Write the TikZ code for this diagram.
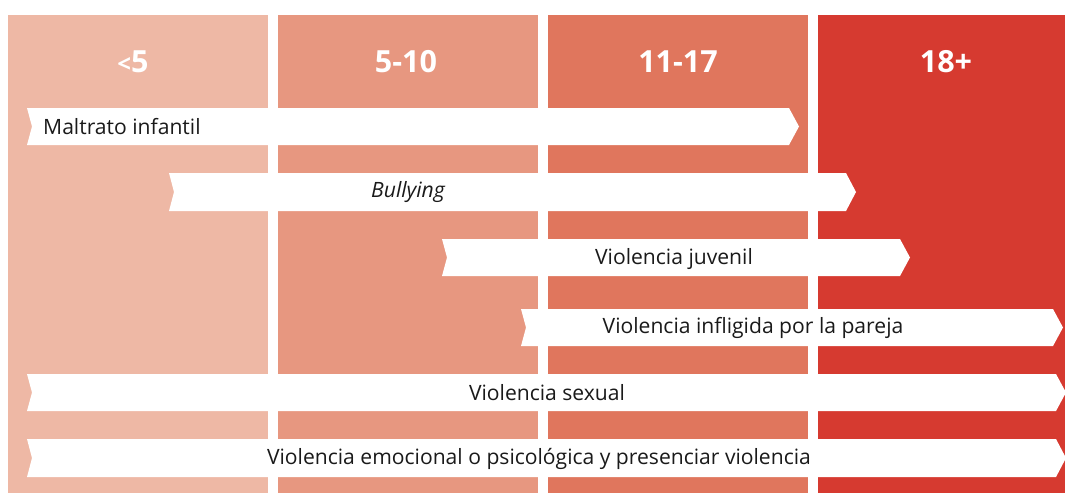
\documentclass[tikz,border=0pt]{standalone}
\usepackage{fontspec}
\setmainfont{Open Sans}
\definecolor{cA}{HTML}{EEB8A5}
\definecolor{cB}{HTML}{E79780}
\definecolor{cC}{HTML}{E0765D}
\definecolor{cD}{HTML}{D63A30}
\definecolor{txt}{HTML}{1A1A1A}
\tikzset{
  head/.style={text=white, font=\fontsize{30.5}{33}\selectfont\bfseries, inner sep=0pt, anchor=center},
  band/.style={fill=white, draw=none},
  lbl/.style={text=txt, font=\fontsize{21.1}{25}\selectfont, inner sep=0pt}
}
\begin{document}
\begin{tikzpicture}[x=1pt,y=-1pt]
\useasboundingbox (0,0) rectangle (1065,493);
\fill[white] (0,0) rectangle (1065,493);
% columns
\fill[cA] (8,15) rectangle (268,493);
\fill[cB] (278,15) rectangle (538,493);
\fill[cC] (548,15) rectangle (808,493);
\fill[cD] (818,15) rectangle (1065,493);
% headers
\node[head] (h1) at (133,62) {{\fontsize{24}{24}\selectfont<}5};
\node[head] (h2) at (406,62) {5-10};
\node[head] (h3) at (678,62) {11-17};
\node[head] (h4) at (946,62) {18+};
% bands: left x, top y, flat end x, bottom y
\newcommand{\bandshape}[4]{%
  \fill[band] (#1,#2) -- (#3,#2) -- ({#3+10},{(#2+#4)/2}) -- (#3,#4) -- (#1,#4) -- ({#1+5},{(#2+#4)/2}) -- cycle;}
\bandshape{27}{108}{789}{145}
\bandshape{169}{173}{846}{211}
\bandshape{442}{239}{900}{276}
\bandshape{521}{309}{1053}{346}
\bandshape{27}{374}{1056}{411}
\bandshape{27}{439}{1056}{477}
% labels
\node[lbl, anchor=west] (l1) at (43,127) {Maltrato infantil};
\node[lbl] (l2) at (408,192) {\itshape Bullying};
\node[lbl] (l3) at (674,259) {Violencia juvenil};
\node[lbl] (l4) at (753,328) {Violencia infligida por la pareja};
\node[lbl] (l5) at (547,393) {Violencia sexual};
\node[lbl] (l6) at (539,459) {Violencia emocional o psicológica y presenciar violencia};
\end{tikzpicture}
\end{document}
